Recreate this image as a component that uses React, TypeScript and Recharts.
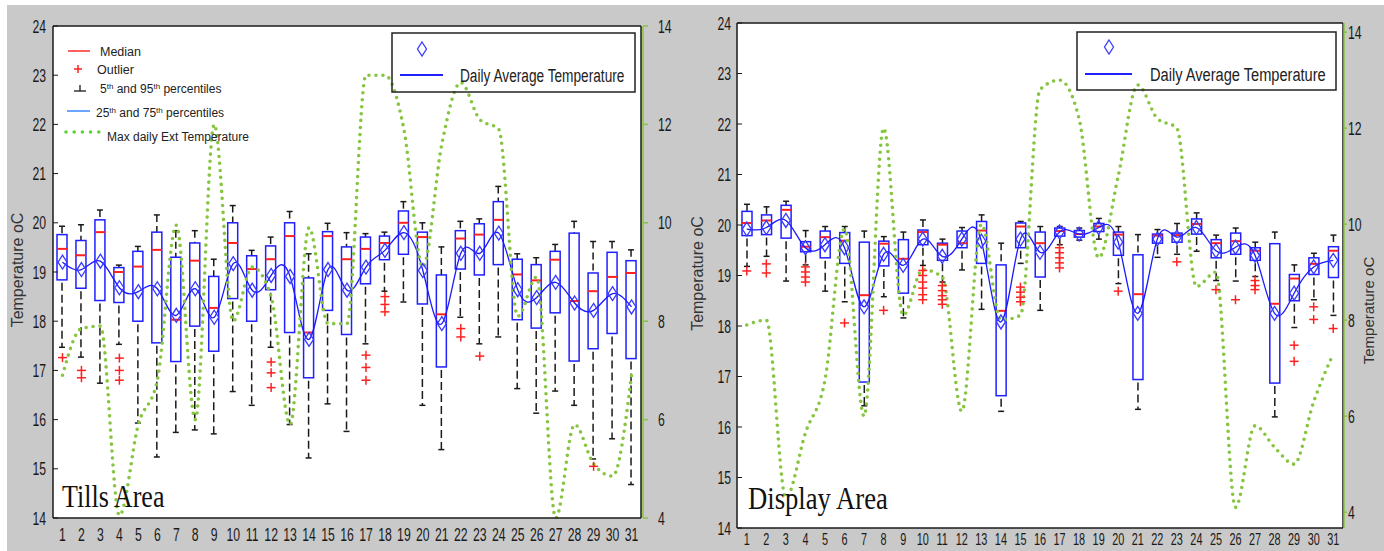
import React from 'react';
import { ComposedChart, Bar, Line, Scatter, XAxis, YAxis, ReferenceLine, CartesianGrid } from 'recharts';

// ---- data ----
const days = [1, 2, 3, 4, 5, 6, 7, 8, 9, 10, 11, 12, 13, 14, 15, 16, 17, 18, 19, 20, 21, 22, 23, 24, 25, 26, 27, 28, 29, 30, 31];
const leftTicks = [14, 15, 16, 17, 18, 19, 20, 21, 22, 23, 24];
const extTicks = [4, 6, 8, 10, 12, 14];

// Tills Area
const tillsP95 = [19.93, 19.96, 20.26, 19.14, 19.52, 20.16, 19.84, 19.84, 19.26, 20.35, 19.44, 19.71, 20.23, 19.37, 19.99, 19.8, 19.78, 19.81, 20.43, 20.0, 19.51, 20.03, 20.08, 20.74, 19.37, 19.29, 19.56, 20.03, 19.62, 19.62, 19.45];
const tillsQ3 = [19.76, 19.64, 20.06, 19.09, 19.42, 19.81, 19.3, 19.59, 18.91, 20.0, 19.33, 19.53, 20.0, 18.88, 19.82, 19.51, 19.71, 19.73, 20.24, 19.81, 18.94, 19.84, 19.98, 20.43, 19.26, 19.15, 19.42, 19.79, 18.98, 19.4, 19.23];
const tillsMed = [19.47, 19.34, 19.81, 19.0, 19.11, 19.45, 18.03, 19.23, 18.27, 19.59, 19.06, 19.26, 19.73, 17.77, 19.73, 19.26, 19.47, 19.59, 20.0, 19.71, 18.14, 19.68, 19.76, 20.06, 18.95, 18.83, 19.25, 18.41, 18.61, 18.9, 18.98];
const tillsQ1 = [18.84, 18.67, 18.42, 18.38, 18.0, 17.56, 17.18, 17.9, 17.39, 18.46, 18.0, 18.64, 17.77, 16.85, 18.22, 17.73, 18.76, 19.25, 19.36, 18.35, 17.07, 19.06, 18.94, 19.15, 18.03, 17.86, 18.17, 17.19, 17.44, 17.75, 17.24];
const tillsP5 = [17.47, 17.27, 16.74, 17.53, 15.93, 15.24, 15.74, 15.79, 15.71, 16.57, 16.29, 17.47, 15.9, 15.22, 16.32, 15.76, 17.54, 18.61, 18.39, 16.29, 15.39, 18.08, 17.54, 17.68, 16.63, 16.13, 16.58, 16.29, 15.2, 15.61, 14.68];
const tillsMean = [19.2, 19.05, 19.22, 18.68, 18.6, 18.66, 18.12, 18.66, 18.08, 19.17, 18.63, 18.93, 18.91, 17.63, 19.05, 18.63, 19.1, 19.44, 19.8, 19.03, 17.95, 19.38, 19.38, 19.79, 18.64, 18.48, 18.79, 18.37, 18.22, 18.56, 18.29];
const tillsOutliers = [[17.26], [17.0, 16.85], [], [17.25, 17.0, 16.8], [], [], [], [], [], [], [], [17.17, 16.95, 16.65], [], [], [], [], [17.31, 17.06, 16.8], [18.5, 18.34, 18.19], [], [], [], [17.85, 17.68], [17.29], [], [], [], [], [], [15.05], [], []];
const tillsExt = [6.9, 7.85, 7.9, 4.05, 5.9, 6.8, 9.95, 6.0, 12.0, 8.0, 9.1, 8.5, 5.9, 9.9, 7.95, 7.95, 13.0, 13.0, 11.9, 9.1, 11.6, 12.85, 12.1, 11.9, 8.1, 8.9, 4.0, 5.9, 5.1, 4.85, 6.9];

// Display Area
const dispP95 = [20.41, 20.36, 20.47, 19.89, 19.97, 19.97, 19.88, 19.77, 19.86, 20.1, 19.72, 19.95, 20.2, 19.64, 20.07, 19.97, 19.97, 19.94, 20.13, 19.97, 19.81, 19.91, 20.03, 20.24, 19.8, 19.94, 19.66, 19.86, 19.21, 19.44, 19.8];
const dispQ3 = [20.27, 20.2, 20.39, 19.67, 19.88, 19.85, 19.66, 19.68, 19.71, 19.9, 19.64, 19.88, 20.07, 19.21, 20.04, 19.86, 19.94, 19.89, 20.03, 19.86, 19.41, 19.82, 19.84, 20.12, 19.71, 19.84, 19.55, 19.63, 19.02, 19.35, 19.57];
const dispMed = [20.04, 20.09, 20.3, 19.57, 19.76, 19.69, 18.61, 19.63, 19.33, 19.86, 19.61, 19.64, 19.89, 18.3, 19.97, 19.64, 19.88, 19.82, 19.97, 19.81, 18.63, 19.79, 19.8, 20.02, 19.64, 19.68, 19.49, 18.44, 18.94, 19.23, 19.49];
const dispQ1 = [19.79, 19.81, 19.74, 19.47, 19.35, 19.24, 16.89, 19.19, 18.65, 19.61, 19.3, 19.55, 19.24, 16.62, 19.55, 18.97, 19.78, 19.76, 19.87, 19.4, 16.94, 19.64, 19.66, 19.82, 19.35, 19.42, 19.3, 16.87, 18.5, 19.02, 18.96];
const dispP5 = [19.18, 19.38, 18.89, 19.21, 18.69, 18.48, 16.42, 18.58, 18.16, 19.2, 18.87, 19.11, 18.33, 16.31, 19.24, 18.31, 19.61, 19.7, 19.72, 18.84, 16.35, 19.36, 19.42, 19.48, 18.9, 18.89, 18.98, 16.2, 17.97, 18.52, 18.21];
const dispMean = [19.92, 19.95, 20.09, 19.55, 19.61, 19.55, 18.38, 19.42, 19.2, 19.72, 19.38, 19.72, 19.68, 18.08, 19.72, 19.46, 19.86, 19.82, 19.95, 19.66, 18.25, 19.72, 19.76, 19.95, 19.49, 19.56, 19.4, 18.25, 18.65, 19.17, 19.3];
const dispOutliers = [[19.09], [19.23, 19.05], [], [19.17, 19.07, 18.97, 18.87], [], [18.06], [], [18.31], [], [19.1, 19.0, 18.87, 18.75, 18.62, 18.52], [18.8, 18.7, 18.6, 18.52, 18.43], [], [], [], [18.77, 18.67, 18.57, 18.48], [], [19.55, 19.45, 19.35, 19.25, 19.15], [], [], [18.69], [], [], [19.27], [], [18.72], [18.52], [18.9, 18.8, 18.72], [], [17.62, 17.3], [18.38, 18.13], [17.95]];
const dispExt = [7.9, 8.0, 4.3, 5.65, 6.75, 9.9, 6.0, 12.0, 8.1, 9.05, 8.9, 6.1, 10.0, 8.0, 8.1, 12.8, 13.0, 12.2, 9.3, 11.0, 12.9, 12.2, 12.0, 8.7, 9.0, 4.1, 5.8, 5.35, 5.0, 6.3, 7.3];

const outlierKeys = ['o0', 'o1', 'o2', 'o3', 'o4', 'o5'];

const buildRows = (p95: number[], q3: number[], med: number[], q1: number[], p5: number[], mean: number[], outliers: number[][], ext: number[]) =>
  days.map((day, i) => {
    const row: any = { day, range: [p5[i], p95[i]], p95: p95[i], q3: q3[i], med: med[i], q1: q1[i], p5: p5[i], mean: mean[i], ext: ext[i] };
    outlierKeys.forEach((k, j) => {
      row[k] = outliers[i][j] ?? null;
    });
    return row;
  });

const tillsRows = buildRows(tillsP95, tillsQ3, tillsMed, tillsQ1, tillsP5, tillsMean, tillsOutliers, tillsExt);
const dispRows = buildRows(dispP95, dispQ3, dispMed, dispQ1, dispP5, dispMean, dispOutliers, dispExt);

// ---- styling ----
const NUM_FONT = "'Liberation Sans', Arial, sans-serif";
const BLUE = '#1f1fff';
const RED = '#ff2020';
const GREEN = '#86c540';
const INK = '#1a1a1a';
const GRAY = '#c9c9c9';

// box, whiskers and median, drawn from the bar's [p5, p95] pixel span
const makeBox = (rows: any[]) => (props: any) => {
  const { x, y, width, height, index } = props;
  const r = props.payload ?? rows[index];
  if (!r || !isFinite(y) || !isFinite(height)) return <g />;
  const span = r.p95 - r.p5;
  const py = (v: number) => y + ((r.p95 - v) / span) * height;
  const cx = x + width / 2;
  const top = py(r.p95);
  const bot = py(r.p5);
  const q3 = py(r.q3);
  const q1 = py(r.q1);
  const med = py(r.med);
  return (
    <g>
      <line x1={cx} x2={cx} y1={top} y2={q3} stroke={INK} strokeWidth={1.5} strokeDasharray="7 4" />
      <line x1={cx} x2={cx} y1={q1 + 3} y2={bot} stroke={INK} strokeWidth={1.5} strokeDasharray="8 4" />
      <line x1={cx - 3} x2={cx + 3} y1={top} y2={top} stroke={INK} strokeWidth={1.5} />
      <line x1={cx - 3} x2={cx + 3} y1={bot} y2={bot} stroke={INK} strokeWidth={1.5} />
      <rect x={x} y={q3} width={width} height={Math.max(q1 - q3, 0.5)} fill="none" stroke={BLUE} strokeWidth={1.5} />
      <line x1={x} x2={x + width} y1={med} y2={med} stroke={RED} strokeWidth={2} />
    </g>
  );
};

const plusShape = (key: string) => (props: any) => {
  const { cx, cy, payload } = props;
  if (!payload || payload[key] == null || !isFinite(cy)) return <g />;
  return (
    <g stroke={RED} strokeWidth={1.5}>
      <line x1={cx - 4.5} x2={cx + 4.5} y1={cy} y2={cy} />
      <line x1={cx} x2={cx} y1={cy - 4.5} y2={cy + 4.5} />
    </g>
  );
};

const diamondShape = (props: any) => {
  const { cx, cy } = props;
  if (!isFinite(cx) || !isFinite(cy)) return <g />;
  return (
    <path
      d={`M${cx},${cy - 7} L${cx + 4.5},${cy} L${cx},${cy + 7} L${cx - 4.5},${cy} Z`}
      fill="none"
      stroke="#3a3aff"
      strokeWidth={1.3}
    />
  );
};

const NarrowY = (props: any) => {
  const { x, y, payload, textAnchor } = props;
  return (
    <g transform={`translate(${x},${y})`}>
      <text transform="scale(0.68,1)" textAnchor={textAnchor} dy={6.5} fontSize={18} fontFamily={NUM_FONT} fill={INK}>
        {payload.value}
      </text>
    </g>
  );
};

const NarrowX = (props: any) => {
  const { x, y, payload, off, size } = props;
  return (
    <g transform={`translate(${x},${y})`}>
      <text transform="scale(0.68,1)" textAnchor="middle" dy={off} fontSize={size} fontFamily={NUM_FONT} fill={INK}>
        {payload.value}
      </text>
    </g>
  );
};

const axisTitle = (dx: number, dy: number, size: number) => (p: any) => {
  const vb = p.viewBox || { x: 0, y: 0, width: 0, height: 0 };
  const tx = vb.x + dx;
  const ty = vb.y + vb.height / 2 + dy;
  return (
    <text
      x={tx}
      y={ty}
      transform={`rotate(-90 ${tx} ${ty})`}
      textAnchor="middle"
      dominantBaseline="central"
      fontSize={size}
      fontFamily={NUM_FONT}
      fill="#333"
    >
      Temperature oC
    </text>
  );
};

type PanelProps = {
  rows: any[];
  width: number;
  height: number;
  margin: { top: number; right: number; bottom: number; left: number };
  leftWidth: number;
  leftMargin: number;
  boxWidth: number;
  extWidth: number;
  extDomain: number[];
  extTickSize: number;
  extTickMargin: number;
  xOff: number;
  xSize: number;
  rightTitle: boolean;
};

const Panel = ({ rows, width, height, margin, leftWidth, leftMargin, boxWidth, extWidth, extDomain, extTickSize, extTickMargin, xOff, xSize, rightTitle }: PanelProps) => (
  <ComposedChart width={width} height={height} data={rows} margin={margin}>
    <CartesianGrid yAxisId="left" fill="#ffffff" horizontal={false} vertical={false} />
    <XAxis
      dataKey="day"
      type="category"
      interval={0}
      tickLine={false}
      tickSize={0}
      tickMargin={0}
      height={20}
      axisLine={{ stroke: INK, strokeWidth: 1.5 }}
      tick={<NarrowX off={xOff} size={xSize} />}
    />
    <YAxis
      yAxisId="left"
      orientation="left"
      type="number"
      domain={[14, 24]}
      ticks={leftTicks}
      width={leftWidth}
      tickSize={-5}
      tickMargin={leftMargin}
      axisLine={{ stroke: INK, strokeWidth: 1.5 }}
      tickLine={{ stroke: INK }}
      tick={<NarrowY />}
      label={{ content: axisTitle(9, -2, 16) }}
    />
    <YAxis
      yAxisId="box"
      orientation="right"
      type="number"
      domain={[14, 24]}
      ticks={leftTicks}
      width={boxWidth}
      tick={false}
      tickSize={-5}
      axisLine={{ stroke: INK, strokeWidth: 1.5 }}
      tickLine={{ stroke: INK }}
    />
    <YAxis
      yAxisId="ext"
      orientation="right"
      type="number"
      domain={extDomain}
      ticks={extTicks}
      width={extWidth}
      tickSize={extTickSize}
      tickMargin={extTickMargin}
      axisLine={{ stroke: GREEN, strokeWidth: 1.5 }}
      tickLine={{ stroke: GREEN, strokeWidth: 1.5 }}
      tick={<NarrowY />}
      label={rightTitle ? { content: axisTitle(24, 35, 15) } : undefined}
    />
    <ReferenceLine yAxisId="left" y={24} stroke={INK} strokeWidth={1.5} />
    <Bar yAxisId="left" dataKey="range" barSize={10} fill="none" shape={makeBox(rows)} isAnimationActive={false} />
    <Line yAxisId="left" dataKey="mean" type="natural" stroke="#1a1aff" strokeWidth={1.3} dot={false} isAnimationActive={false} />
    <Scatter yAxisId="left" dataKey="mean" shape={diamondShape} isAnimationActive={false} />
    {outlierKeys.map((k) => (
      <Scatter key={k} yAxisId="left" dataKey={k} shape={plusShape(k)} isAnimationActive={false} />
    ))}
    <Line
      yAxisId="ext"
      dataKey="ext"
      type="monotone"
      stroke={GREEN}
      strokeWidth={3.6}
      strokeDasharray="0 7"
      strokeLinecap="round"
      dot={false}
      isAnimationActive={false}
    />
  </ComposedChart>
);

const LEG_FONT = "'Liberation Sans', Arial, sans-serif";

const Overlay = () => (
  <svg width={1384} height={551} style={{ position: 'absolute', left: 0, top: 0, pointerEvents: 'none' }}>
    {/* Tills legend (upper left) */}
    <line x1={68} x2={90} y1={51} y2={51} stroke="#ff6060" strokeWidth={2} />
    <text x={100} y={55.5} fontSize={12.5} fontFamily={LEG_FONT} fill="#222">Median</text>
    <line x1={74} x2={82} y1={69} y2={69} stroke={RED} strokeWidth={1.5} />
    <line x1={78} x2={78} y1={65} y2={73} stroke={RED} strokeWidth={1.5} />
    <text x={97} y={73.5} fontSize={12.5} fontFamily={LEG_FONT} fill="#222">Outlier</text>
    <line x1={74} x2={86} y1={91} y2={91} stroke={INK} strokeWidth={1.3} />
    <line x1={80} x2={80} y1={85} y2={91} stroke={INK} strokeWidth={1.3} />
    <text x={100} y={93} fontSize={12} fontFamily={LEG_FONT} fill="#222">
      5<tspan dy={-4} fontSize={8}>th</tspan>
      <tspan dy={4}> and 95</tspan>
      <tspan dy={-4} fontSize={8}>th</tspan>
      <tspan dy={4}> percentiles</tspan>
    </text>
    <line x1={67} x2={90} y1={111} y2={111} stroke="#6aa6ff" strokeWidth={2} />
    <text x={96} y={117} fontSize={12} fontFamily={LEG_FONT} fill="#222">
      25<tspan dy={-4} fontSize={8}>th</tspan>
      <tspan dy={4}> and 75</tspan>
      <tspan dy={-4} fontSize={8}>th</tspan>
      <tspan dy={4}> percentiles</tspan>
    </text>
    <line x1={66} x2={100} y1={132} y2={132} stroke="#5fcf3a" strokeWidth={3.6} strokeDasharray="0 8.2" strokeLinecap="round" />
    <text x={107} y={141} fontSize={12} fontFamily={LEG_FONT} fill="#222">Max daily Ext Temperature</text>

    {/* Tills mean legend box */}
    <rect x={392} y={33} width={243} height={59} fill="none" stroke="#222" strokeWidth={1.5} />
    <path d="M422,42 L426.5,49 L422,56 L417.5,49 Z" fill="none" stroke="#3a3aff" strokeWidth={1.3} />
    <line x1={400} x2={443} y1={75} y2={75} stroke={BLUE} strokeWidth={2} />
    <g transform="translate(460,82) scale(0.72,1)">
      <text fontSize={19} fontFamily={LEG_FONT} fill="#222">Daily Average Temperature</text>
    </g>

    {/* Display mean legend box */}
    <rect x={1077} y={32} width={259} height={58} fill="none" stroke="#222" strokeWidth={1.5} />
    <path d="M1109,40 L1113.5,47 L1109,54 L1104.5,47 Z" fill="none" stroke="#3a3aff" strokeWidth={1.3} />
    <line x1={1085} x2={1132} y1={74} y2={74} stroke={BLUE} strokeWidth={2} />
    <g transform="translate(1150,81) scale(0.77,1)">
      <text fontSize={19} fontFamily={LEG_FONT} fill="#222">Daily Average Temperature</text>
    </g>

    {/* area captions */}
    <g transform="translate(62,507) scale(0.84,1)">
      <text fontSize={31} fontFamily="'Liberation Serif', 'Times New Roman', serif" fill="#111">Tills Area</text>
    </g>
    <g transform="translate(748,509) scale(0.86,1)">
      <text fontSize={31} fontFamily="'Liberation Serif', 'Times New Roman', serif" fill="#111">Display Area</text>
    </g>
  </svg>
);

export default function App() {
  return (
    <div style={{ position: 'absolute', left: 0, top: 0, width: 1384, height: 551, background: '#ffffff', overflow: 'hidden' }}>
      <div style={{ position: 'absolute', left: 7, top: 5, width: 673, height: 546, background: GRAY }} />
      <div style={{ position: 'absolute', left: 680, top: 5, width: 704, height: 546, background: GRAY }} />
      <div style={{ position: 'absolute', left: 0, top: 0 }}>
        <Panel
          rows={tillsRows}
          width={680}
          height={551}
          margin={{ top: 26, right: 7, bottom: 13, left: 8 }}
          leftWidth={45}
          leftMargin={12}
          boxWidth={2}
          extWidth={30}
          extDomain={[4, 14]}
          extTickSize={5}
          extTickMargin={10}
          xOff={23}
          xSize={18}
          rightTitle={false}
        />
      </div>
      <div style={{ position: 'absolute', left: 680, top: 0 }}>
        <Panel
          rows={dispRows}
          width={704}
          height={551}
          margin={{ top: 23, right: 0, bottom: 3, left: 8 }}
          leftWidth={49}
          leftMargin={11}
          boxWidth={1}
          extWidth={40}
          extDomain={[3.67, 14.19]}
          extTickSize={3}
          extTickMargin={1}
          xOff={17}
          xSize={16}
          rightTitle={true}
        />
      </div>
      <Overlay />
    </div>
  );
}
